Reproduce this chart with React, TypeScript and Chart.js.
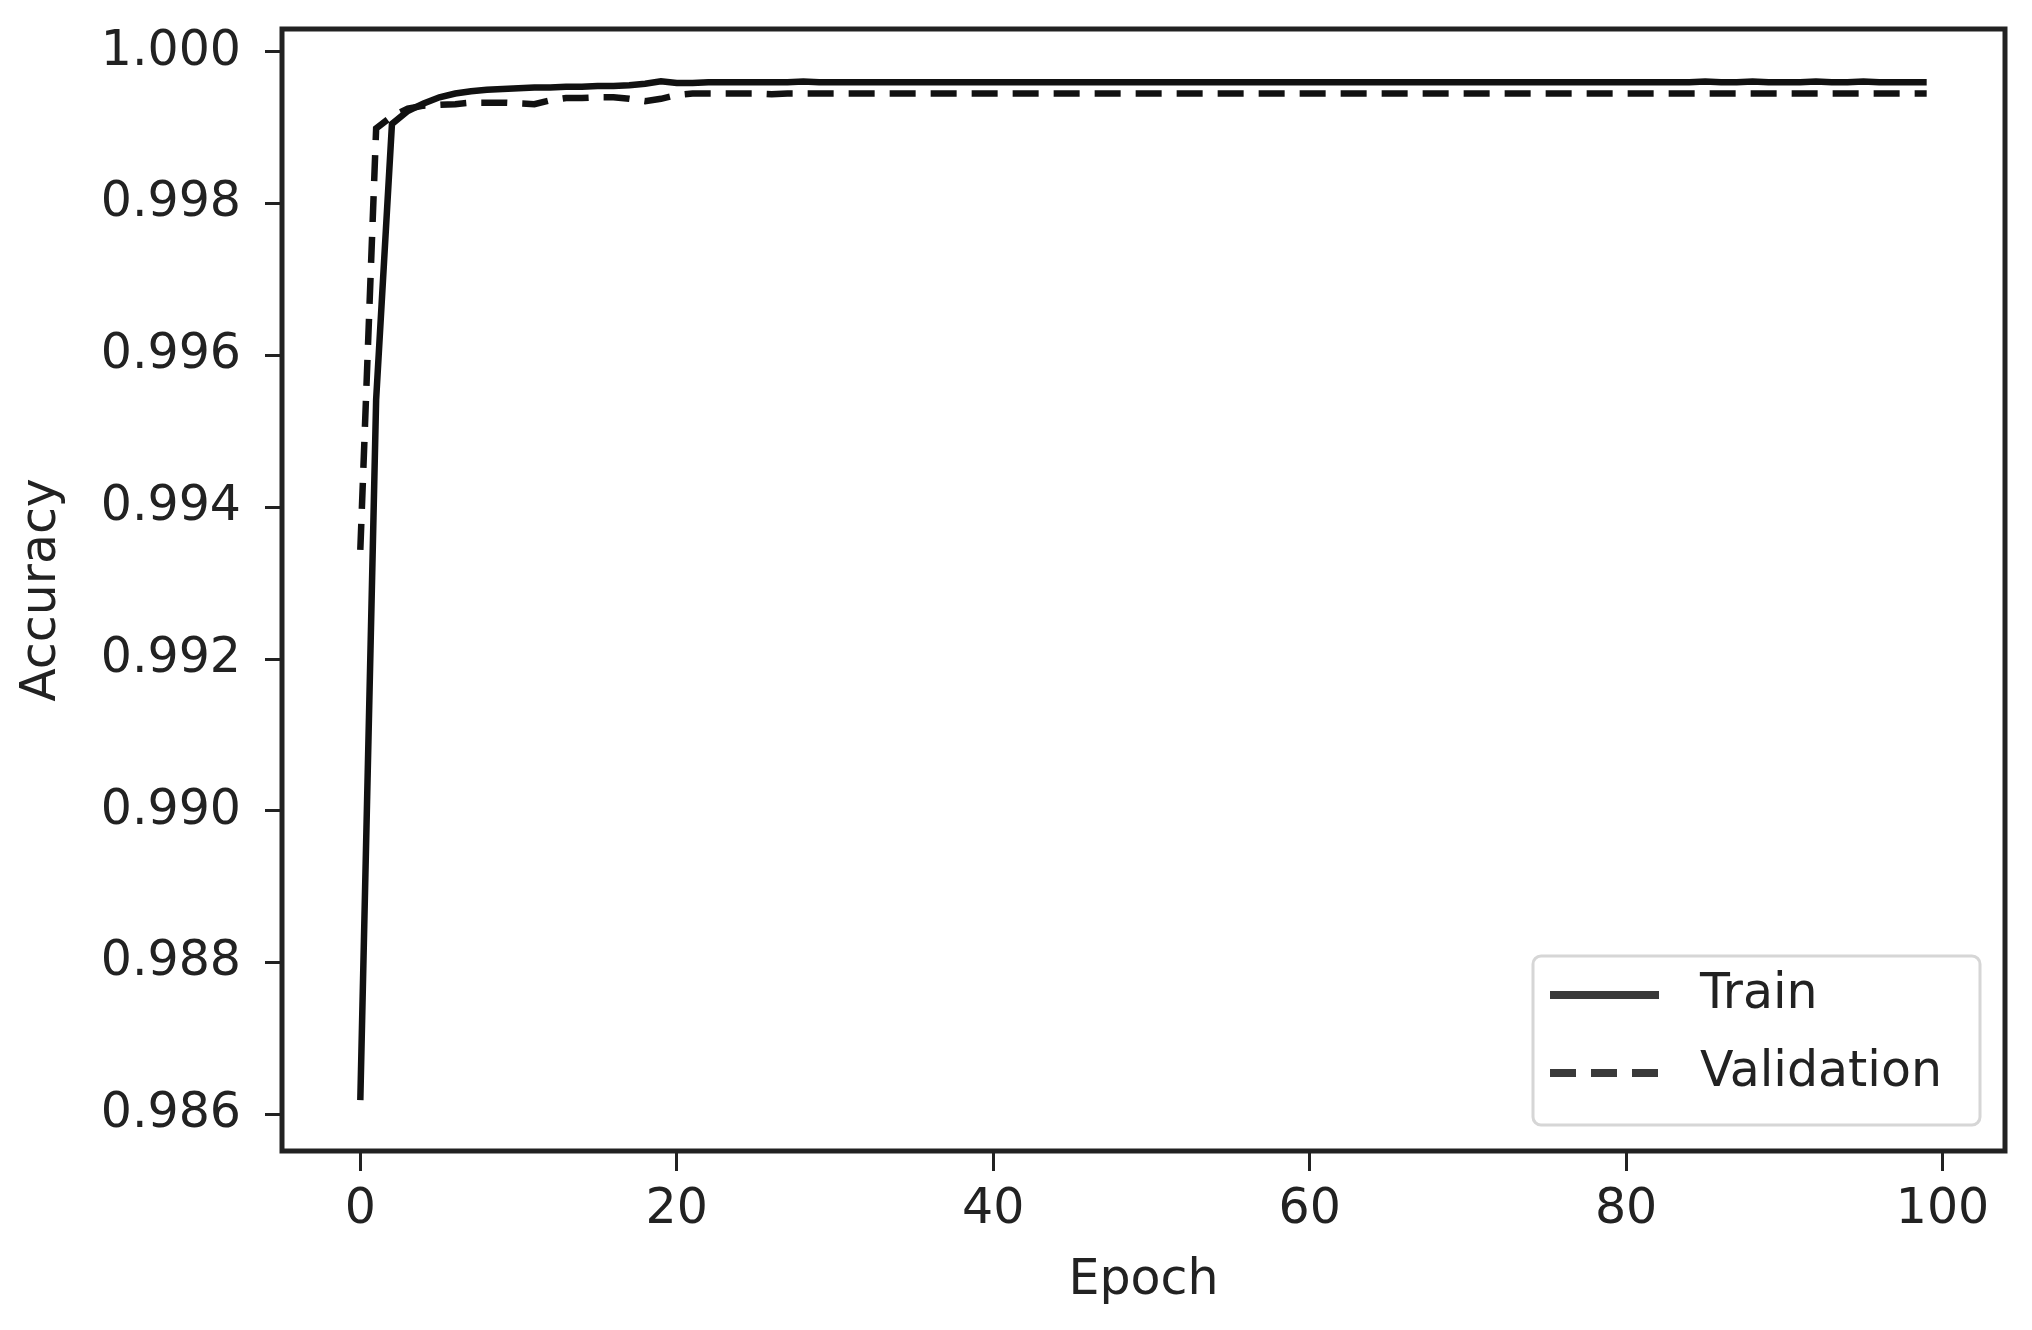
import React, { useEffect, useRef } from "react";
import { Chart, registerables } from "chart.js";

Chart.register(...registerables);

const trainAcc = [
  0.98619, 0.99542, 0.99905, 0.99922, 0.99932, 0.9994, 0.99945, 0.99948, 0.9995, 0.99951,
  0.99952, 0.99953, 0.99953, 0.99954, 0.99954, 0.99955, 0.99955, 0.99956, 0.99958, 0.99961,
  0.99959, 0.99959, 0.9996, 0.9996, 0.9996, 0.9996, 0.9996, 0.9996, 0.99961, 0.9996,
  0.9996, 0.9996, 0.9996, 0.9996, 0.9996, 0.9996, 0.9996, 0.9996, 0.9996, 0.9996,
  0.9996, 0.9996, 0.9996, 0.9996, 0.9996, 0.9996, 0.9996, 0.9996, 0.9996, 0.9996,
  0.9996, 0.9996, 0.9996, 0.9996, 0.9996, 0.9996, 0.9996, 0.9996, 0.9996, 0.9996,
  0.9996, 0.9996, 0.9996, 0.9996, 0.9996, 0.9996, 0.9996, 0.9996, 0.9996, 0.9996,
  0.9996, 0.9996, 0.9996, 0.9996, 0.9996, 0.9996, 0.9996, 0.9996, 0.9996, 0.9996,
  0.9996, 0.9996, 0.9996, 0.9996, 0.9996, 0.99961, 0.9996, 0.9996, 0.99961, 0.9996,
  0.9996, 0.9996, 0.99961, 0.9996, 0.9996, 0.99961, 0.9996, 0.9996, 0.9996, 0.9996,
];

const valAcc = [
  0.99344, 0.99899, 0.99915, 0.99925, 0.99929, 0.9993, 0.99931, 0.99933, 0.99933, 0.99933,
  0.99932, 0.99931, 0.99936, 0.99939, 0.99939, 0.9994, 0.9994, 0.99938, 0.99935, 0.99938,
  0.99943, 0.99945, 0.99945, 0.99945, 0.99945, 0.99945, 0.99944, 0.99945, 0.99945, 0.99945,
  0.99945, 0.99945, 0.99945, 0.99945, 0.99945, 0.99945, 0.99945, 0.99945, 0.99945, 0.99945,
  0.99945, 0.99945, 0.99945, 0.99945, 0.99945, 0.99945, 0.99945, 0.99945, 0.99945, 0.99945,
  0.99945, 0.99945, 0.99945, 0.99945, 0.99945, 0.99945, 0.99945, 0.99945, 0.99945, 0.99945,
  0.99945, 0.99945, 0.99945, 0.99945, 0.99945, 0.99945, 0.99945, 0.99945, 0.99945, 0.99945,
  0.99945, 0.99945, 0.99945, 0.99945, 0.99945, 0.99945, 0.99945, 0.99945, 0.99945, 0.99945,
  0.99945, 0.99945, 0.99945, 0.99945, 0.99945, 0.99945, 0.99945, 0.99945, 0.99945, 0.99945,
  0.99945, 0.99945, 0.99945, 0.99945, 0.99945, 0.99945, 0.99945, 0.99945, 0.99945, 0.99945,
];

const seriesNames = ["Train", "Validation"];
const xTickValues = [0, 20, 40, 60, 80, 100];
const yTickValues = [0.986, 0.988, 0.99, 0.992, 0.994, 0.996, 0.998, 1.0];
const xTitle = "Epoch";
const yTitle = "Accuracy";

const FONT = "'DejaVu Sans', 'Liberation Sans', sans-serif";
const INK = "#222222";

const frameAndLegend = {
  id: "frameAndLegend",
  afterDatasetsDraw(chart: any) {
    const { ctx, chartArea: a } = chart;
    ctx.save();
    ctx.strokeStyle = INK;
    ctx.lineWidth = 5;
    ctx.strokeRect(a.left, a.top, a.right - a.left, a.bottom - a.top);

    // legend box
    const w = 447;
    const h = 169;
    const bx = a.right - 25 - w;
    const by = a.bottom - 26 - h;
    const r = 8;
    ctx.beginPath();
    ctx.moveTo(bx + r, by);
    ctx.lineTo(bx + w - r, by);
    ctx.arcTo(bx + w, by, bx + w, by + r, r);
    ctx.lineTo(bx + w, by + h - r);
    ctx.arcTo(bx + w, by + h, bx + w - r, by + h, r);
    ctx.lineTo(bx + r, by + h);
    ctx.arcTo(bx, by + h, bx, by + h - r, r);
    ctx.lineTo(bx, by + r);
    ctx.arcTo(bx, by, bx + r, by, r);
    ctx.closePath();
    ctx.fillStyle = "rgba(255,255,255,0.85)";
    ctx.fill();
    ctx.strokeStyle = "#d6d6d6";
    ctx.lineWidth = 3;
    ctx.stroke();

    const rows = [by + 39, by + 117];
    chart.data.datasets.forEach((ds: any, i: number) => {
      const y = rows[i];
      ctx.beginPath();
      ctx.setLineDash(ds.borderDash || []);
      ctx.strokeStyle = "#3a3a3a";
      ctx.lineWidth = 8;
      ctx.lineCap = "butt";
      ctx.moveTo(bx + 17, y);
      ctx.lineTo(bx + 126, y);
      ctx.stroke();
      ctx.setLineDash([]);
      ctx.fillStyle = INK;
      ctx.font = `49px ${FONT}`;
      ctx.textAlign = "left";
      ctx.textBaseline = "middle";
      ctx.fillText(ds.label, bx + 167, y);
    });
    ctx.restore();
  },
};

export default function App() {
  const ref = useRef<HTMLCanvasElement | null>(null);

  useEffect(() => {
    document.body.style.margin = "0";
    const canvas = ref.current;
    if (!canvas) return;
    const chart = new Chart(canvas, {
      type: "line",
      data: {
        datasets: [
          {
            label: seriesNames[0],
            data: trainAcc.map((y, i) => ({ x: i, y })),
            borderColor: "#111111",
            borderWidth: 6.5,
            pointRadius: 0,
            tension: 0,
            fill: false,
          },
          {
            label: seriesNames[1],
            data: valAcc.map((y, i) => ({ x: i, y })),
            borderColor: "#111111",
            borderWidth: 6.5,
            borderDash: [26, 15],
            pointRadius: 0,
            tension: 0,
            fill: false,
          },
        ],
      },
      options: {
        responsive: false,
        animation: false,
        devicePixelRatio: 1,
        layout: { padding: { top: 29, right: 27, left: 0, bottom: 0 } },
        plugins: {
          legend: { display: false },
          tooltip: { enabled: false },
        },
        scales: {
          x: {
            type: "linear",
            min: -4.95,
            max: 103.95,
            afterBuildTicks: (s: any) => {
              s.ticks = xTickValues.map((v) => ({ value: v }));
            },
            afterFit: (s: any) => {
              s.height = 179;
              s.paddingLeft = 0;
              s.paddingRight = 0;
            },
            border: { display: false },
            grid: {
              display: true,
              drawOnChartArea: false,
              drawTicks: true,
              tickLength: 20,
              tickWidth: 3,
              tickColor: INK,
            },
            ticks: {
              autoSkip: false,
              maxRotation: 0,
              padding: 10,
              color: INK,
              font: { family: FONT, size: 49 },
              callback: (v: any) => String(v),
            },
            title: {
              display: true,
              text: xTitle,
              color: INK,
              font: { family: FONT, size: 49 },
              padding: { top: 0, bottom: 19 },
            },
          },
          y: {
            type: "linear",
            min: 0.98552,
            max: 1.0003,
            afterBuildTicks: (s: any) => {
              s.ticks = yTickValues.map((v) => ({ value: v }));
            },
            afterFit: (s: any) => {
              s.width = 282;
              s.paddingTop = 0;
              s.paddingBottom = 0;
            },
            border: { display: false },
            grid: {
              display: true,
              drawOnChartArea: false,
              drawTicks: true,
              tickLength: 17,
              tickWidth: 3,
              tickColor: INK,
            },
            ticks: {
              autoSkip: false,
              padding: 24,
              color: INK,
              font: { family: FONT, size: 49 },
              callback: (v: any) => Number(v).toFixed(3),
            },
            title: {
              display: true,
              text: yTitle,
              color: INK,
              font: { family: FONT, size: 49 },
              padding: { top: 13, bottom: 0 },
            },
          },
        },
      },
      plugins: [frameAndLegend],
    });
    return () => chart.destroy();
  }, []);

  return <canvas ref={ref} width={2032} height={1330} style={{ display: "block" }} />;
}
